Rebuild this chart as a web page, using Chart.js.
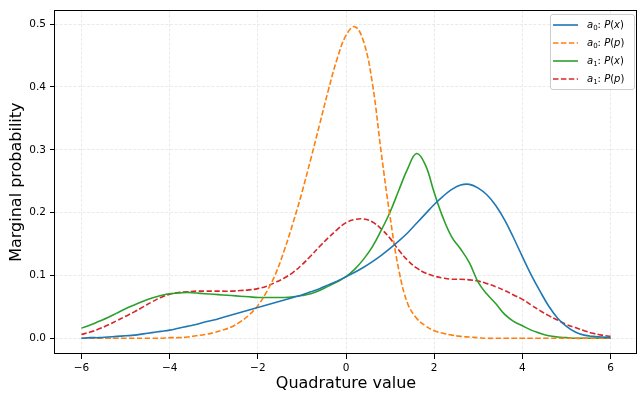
<!DOCTYPE html>
<html>
<head>
<meta charset="utf-8">
<script src="https://cdn.jsdelivr.net/npm/chart.js@4/dist/chart.umd.min.js"></script>
<style>
  html, body { margin: 0; padding: 0; background: #fff; }
  #wrap { position: relative; width: 641px; height: 393px; }
  #legend {
    position: absolute; left: 550px; top: 14px; width: 83px;
    border: 1px solid #cccccc; border-radius: 3px;
    background: rgba(255,255,255,0.85);
    padding: 1px 0 1px 0;
    font-family: "DejaVu Sans", sans-serif; font-size: 10px; color: #000;
  }
  .row { height: 18px; display: flex; align-items: center; white-space: nowrap; }
  .row svg { margin-left: 2px; margin-right: 9px; flex: none; }
  .row sub { font-size: 7px; vertical-align: -2px; font-style: normal; }
  .row i { font-style: italic; }
</style>
</head>
<body>
<div id="wrap">
  <canvas id="c" width="641" height="393"></canvas>
  <div id="legend"></div>
</div>
<script>
// Quadrature grid (x values)
const xs = [-6.0,-5.8,-5.6,-5.4,-5.2,-5.0,-4.8,-4.6,-4.4,-4.2,-4.0,-3.8,-3.6,-3.4,-3.2,-3.0,-2.8,-2.6,-2.4,-2.2,-2.0,-1.8,-1.6,-1.4,-1.2,-1.0,-0.8,-0.6,-0.4,-0.2,0.0,0.2,0.4,0.6,0.8,1.0,1.2,1.4,1.6,1.8,2.0,2.2,2.4,2.6,2.8,3.0,3.2,3.4,3.6,3.8,4.0,4.2,4.4,4.6,4.8,5.0,5.2,5.4,5.6,5.8,6.0];

// a0: P(x)
const a0Px = [0.000,0.001,0.001,0.002,0.003,0.004,0.005,0.007,0.009,0.011,0.013,0.016,0.019,0.022,0.026,0.029,0.033,0.037,0.041,0.045,0.049,0.053,0.057,0.061,0.065,0.069,0.074,0.079,0.085,0.091,0.098,0.105,0.113,0.122,0.132,0.143,0.155,0.168,0.183,0.198,0.213,0.226,0.237,0.244,0.245,0.239,0.228,0.211,0.188,0.160,0.130,0.101,0.075,0.051,0.032,0.019,0.010,0.005,0.003,0.002,0.001];

// a0: P(p)
const a0Pp = [0.000,0.000,0.000,0.000,0.000,0.000,0.000,0.000,0.000,0.000,0.001,0.001,0.002,0.004,0.006,0.009,0.013,0.018,0.026,0.037,0.052,0.074,0.102,0.140,0.184,0.232,0.285,0.340,0.395,0.445,0.482,0.496,0.472,0.405,0.295,0.193,0.108,0.055,0.032,0.020,0.012,0.008,0.005,0.003,0.002,0.001,0.000,0.000,0.000,0.000,0.000,0.000,0.000,0.000,0.000,0.000,0.000,0.000,0.000,0.000,0.000];

// a1: P(x)
const a1Px = [0.016,0.021,0.027,0.033,0.040,0.047,0.053,0.059,0.064,0.068,0.071,0.072,0.073,0.072,0.071,0.070,0.069,0.068,0.067,0.066,0.065,0.065,0.065,0.065,0.066,0.068,0.071,0.076,0.083,0.090,0.098,0.110,0.126,0.146,0.172,0.201,0.236,0.270,0.294,0.276,0.232,0.192,0.161,0.142,0.120,0.089,0.070,0.055,0.038,0.027,0.020,0.013,0.008,0.004,0.002,0.001,0.000,0.000,0.000,0.000,0.000];

// a1: P(p)
const a1Pp = [0.006,0.010,0.015,0.021,0.028,0.035,0.042,0.050,0.058,0.065,0.070,0.073,0.074,0.075,0.075,0.075,0.075,0.075,0.076,0.077,0.079,0.083,0.089,0.096,0.105,0.117,0.131,0.146,0.160,0.173,0.184,0.189,0.190,0.185,0.174,0.159,0.140,0.124,0.112,0.104,0.099,0.096,0.094,0.094,0.093,0.091,0.087,0.082,0.076,0.069,0.062,0.053,0.044,0.036,0.029,0.022,0.017,0.012,0.008,0.005,0.003];

const seriesNames = ['a0: P(x)', 'a0: P(p)', 'a1: P(x)', 'a1: P(p)'];
const legendHtml = [
  '<i>a</i><sub>0</sub>: <i>P</i>(<i>x</i>)',
  '<i>a</i><sub>0</sub>: <i>P</i>(<i>p</i>)',
  '<i>a</i><sub>1</sub>: <i>P</i>(<i>x</i>)',
  '<i>a</i><sub>1</sub>: <i>P</i>(<i>p</i>)'
];
const xTicks = [-6, -4, -2, 0, 2, 4, 6];
const yTicks = [0.0, 0.1, 0.2, 0.3, 0.4, 0.5];

const seriesValues = [a0Px, a0Pp, a1Px, a1Pp];
const colors = ['#1f77b4', '#ff7f0e', '#2ca02c', '#d62728'];
const dashes = [[], [5.5, 2.4], [], [5.5, 2.4]];

const FONT = '"DejaVu Sans", sans-serif';

const datasets = seriesValues.map((vals, i) => ({
  label: seriesNames[i],
  data: xs.map((x, j) => ({ x: x, y: vals[j] })),
  borderColor: colors[i],
  backgroundColor: colors[i],
  borderWidth: 1.6,
  borderDash: dashes[i],
  pointRadius: 0,
  fill: false,
  tension: 0.4
}));

const framePlugin = {
  id: 'frame',
  afterDatasetsDraw(chart) {
    const a = chart.chartArea;
    const ctx = chart.ctx;
    ctx.save();
    ctx.strokeStyle = '#000';
    ctx.lineWidth = 1;
    ctx.setLineDash([]);
    ctx.strokeRect(Math.round(a.left) - 0.5, Math.round(a.top) + 0.5,
                   Math.round(a.right) - Math.round(a.left),
                   Math.round(a.bottom) - Math.round(a.top) - 1);
    ctx.restore();
  }
};

const chart = new Chart(document.getElementById('c'), {
  type: 'line',
  data: { datasets: datasets },
  plugins: [framePlugin],
  options: {
    responsive: false,
    devicePixelRatio: 1,
    animation: false,
    layout: { padding: { top: 9, right: 4, left: 0, bottom: 0 } },
    plugins: { legend: { display: false }, tooltip: { enabled: false } },
    scales: {
      x: {
        type: 'linear',
        min: -6.6, max: 6.6,
        afterBuildTicks: (s) => { s.ticks = xTicks.map(v => ({ value: v })); },
        afterFit: (s) => { s.height = 39; },
        ticks: {
          color: '#000', font: { family: FONT, size: 10.5 }, padding: 3,
          maxRotation: 0, autoSkip: false,
          callback: (v) => String(v).replace('-', '\u2212')
        },
        grid: { color: '#e5e5e5', lineWidth: 0.8, tickColor: '#000', tickLength: 5, tickWidth: 1, tickBorderDash: [] },
        border: { display: false, dash: [3, 1.6] },
        title: { display: true, text: 'Quadrature value', color: '#000',
                 font: { family: FONT, size: 16 }, padding: { top: 0, bottom: 0 } }
      },
      y: {
        type: 'linear',
        min: -0.025, max: 0.522,
        afterBuildTicks: (s) => { s.ticks = yTicks.map(v => ({ value: v })); },
        afterFit: (s) => { s.width = 55; },
        ticks: {
          color: '#000', font: { family: FONT, size: 10.5 }, padding: 4,
          callback: (v) => Number(v).toFixed(1)
        },
        grid: { color: '#e5e5e5', lineWidth: 0.8, tickColor: '#000', tickLength: 5, tickWidth: 1, tickBorderDash: [] },
        border: { display: false, dash: [3, 1.6] },
        title: { display: true, text: 'Marginal probability', color: '#000',
                 font: { family: FONT, size: 16 }, padding: { top: 7, bottom: 0 } }
      }
    }
  }
});

// Legend built from the chart's datasets
const leg = document.getElementById('legend');
chart.data.datasets.forEach((ds, i) => {
  const row = document.createElement('div');
  row.className = 'row';
  const dash = (ds.borderDash && ds.borderDash.length) ? ds.borderDash.join(',') : 'none';
  row.innerHTML = '<svg width="25" height="18"><line x1="0" y1="9" x2="25" y2="9" stroke="' +
    ds.borderColor + '" stroke-width="1.6" stroke-dasharray="' + dash + '"/></svg>' +
    '<span>' + legendHtml[i] + '</span>';
  leg.appendChild(row);
});
</script>
</body>
</html>
